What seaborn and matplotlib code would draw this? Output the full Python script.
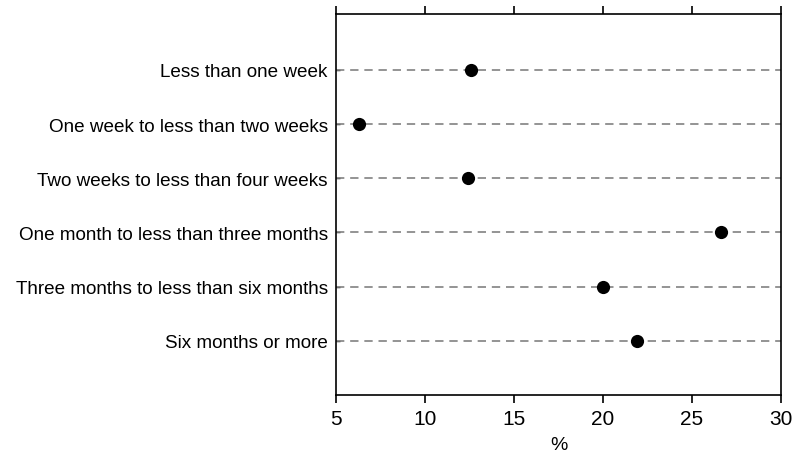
import numpy as np
import pandas as pd
import seaborn as sns
import matplotlib.pyplot as plt

## Data
categories = ['Less than one week',
              'One week to less than two weeks',
              'Two weeks to less than four weeks',
              'One month to less than three months',
              'Three months to less than six months',
              'Six months or more']
values = [12.6, 6.3, 12.4, 26.6, 20.0, 21.9]
xticks = [5, 10, 15, 20, 25, 30]

df = pd.DataFrame({'category': categories, 'pct': values})

sns.set_style('white')
plt.rcParams['font.family'] = ['Liberation Sans', 'DejaVu Sans']
plt.rcParams['text.color'] = 'black'
plt.rcParams['xtick.color'] = 'black'
plt.rcParams['ytick.color'] = 'black'

fig = plt.figure(figsize=(7.97, 4.56), dpi=100)
ax = fig.add_axes([0.4216, 0.1316, 0.5584, 0.8355])

## dashed guide lines across each category
for i in range(len(categories)):
    ax.axhline(i, color='#828282', linestyle=(0, (5, 3.5)), linewidth=1.2, zorder=1)

sns.stripplot(data=df, x='pct', y='category', order=categories, jitter=False,
              color='black', size=9.5, linewidth=0, ax=ax, zorder=3)

ax.set_xlim(5, 30)
ax.set_ylim(6.0, -1.03)
ax.set_xticks(xticks)
ax.set_xticklabels([str(t) for t in xticks])
ax.set_xlabel('%', fontsize=14, labelpad=6, color='black')
ax.set_ylabel('')

for s in ax.spines.values():
    s.set_visible(True)
    s.set_color('black')
    s.set_linewidth(1.2)

ax.tick_params(axis='x', which='both', direction='out', length=6, width=1.2,
               top=True, bottom=True, labeltop=False, labelsize=15, pad=4,
               color='black', labelcolor='black')
ax.tick_params(axis='y', direction='in', length=3, width=1.0, left=True,
               labelsize=13.6, pad=6, color='black', labelcolor='black')

plt.savefig('out.png', dpi=100)
